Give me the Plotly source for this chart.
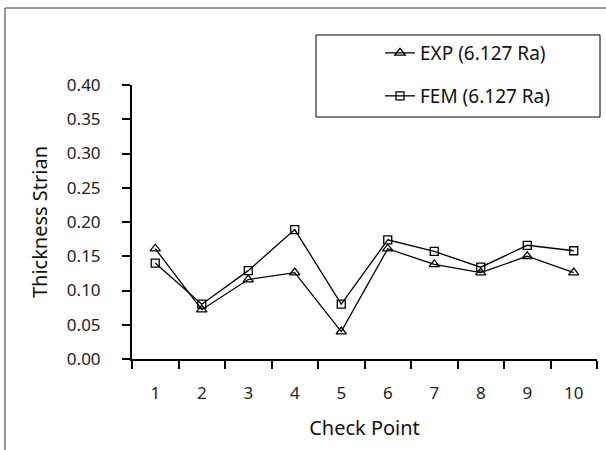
import plotly.graph_objects as go

check_points = ["1", "2", "3", "4", "5", "6", "7", "8", "9", "10"]
exp_values = [0.161, 0.072, 0.116, 0.126, 0.040, 0.161, 0.138, 0.126, 0.150, 0.126]
fem_values = [0.140, 0.080, 0.129, 0.189, 0.080, 0.174, 0.157, 0.134, 0.166, 0.158]
y_ticks = [0.00, 0.05, 0.10, 0.15, 0.20, 0.25, 0.30, 0.35, 0.40]
exp_name = "EXP (6.127 Ra)"
fem_name = "FEM (6.127 Ra)"

FONT = "Noto Sans"

fig = go.Figure()
fig.add_trace(go.Scatter(
    x=check_points, y=exp_values, name=exp_name, mode="lines+markers",
    line=dict(color="black", width=1.3),
    marker=dict(symbol="triangle-up-open", size=9, color="black", line=dict(width=1.3)),
    legend="legend",
))
fig.add_trace(go.Scatter(
    x=check_points, y=fem_values, name=fem_name, mode="lines+markers",
    line=dict(color="black", width=1.3),
    marker=dict(symbol="square-open", size=8, color="black", line=dict(width=1.3)),
    legend="legend2",
))

W, H = 606, 450
L, R, T, B = 132, 9, 85, 91
pw, ph = W - L - R, H - T - B

def px(x):
    return (x - L) / pw

def py(y):
    return (H - B - y) / ph

shapes = [
    # outer frame (top and left visible)
    dict(type="line", xref="paper", yref="paper", x0=px(5), x1=px(610), y0=py(8), y1=py(8),
         line=dict(color="#333333", width=1)),
    dict(type="line", xref="paper", yref="paper", x0=px(5), x1=px(5), y0=py(8), y1=py(455),
         line=dict(color="#333333", width=1)),
    # legend box
    dict(type="rect", xref="paper", yref="paper", x0=px(316), x1=px(600), y0=py(117), y1=py(35),
         line=dict(color="black", width=1), fillcolor="rgba(0,0,0,0)"),
]

legend_common = dict(
    xanchor="left", yanchor="middle", bgcolor="rgba(0,0,0,0)", borderwidth=0,
    font=dict(family=FONT, size=19, color="#111111"), itemclick=False,
)

fig.update_layout(
    width=W, height=H,
    margin=dict(l=L, r=R, t=T, b=B),
    paper_bgcolor="white", plot_bgcolor="white",
    font=dict(family=FONT, size=17, color="#222222"),
    showlegend=True,
    legend=dict(x=px(380), y=py(53), **legend_common),
    legend2=dict(x=px(380), y=py(96), **legend_common),
    shapes=shapes,
    xaxis=dict(
        type="category", tickson="boundaries", range=[-0.5, 9.5],
        showline=True, linecolor="black", linewidth=2,
        ticks="outside", ticklen=8, tickwidth=1.5, tickcolor="black",
        showgrid=False, zeroline=False,
        ticklabelstandoff=18,
        tickfont=dict(family=FONT, size=17, color="#222222"),
        title=dict(text="Check Point", font=dict(family=FONT, size=20, color="#111111"), standoff=18),
    ),
    yaxis=dict(
        range=[0, 0.40], tickvals=y_ticks, ticktext=[f"{v:.2f}" for v in y_ticks],
        showline=True, linecolor="black", linewidth=2,
        ticks="outside", ticklen=8, tickwidth=1.5, tickcolor="black",
        showgrid=False, zeroline=False,
        ticklabelstandoff=18,
        tickfont=dict(family=FONT, size=17, color="#222222"),
        title=dict(text="Thickness Strian", font=dict(family=FONT, size=20, color="#111111"), standoff=14),
    ),
)

fig.write_html("out.html")
